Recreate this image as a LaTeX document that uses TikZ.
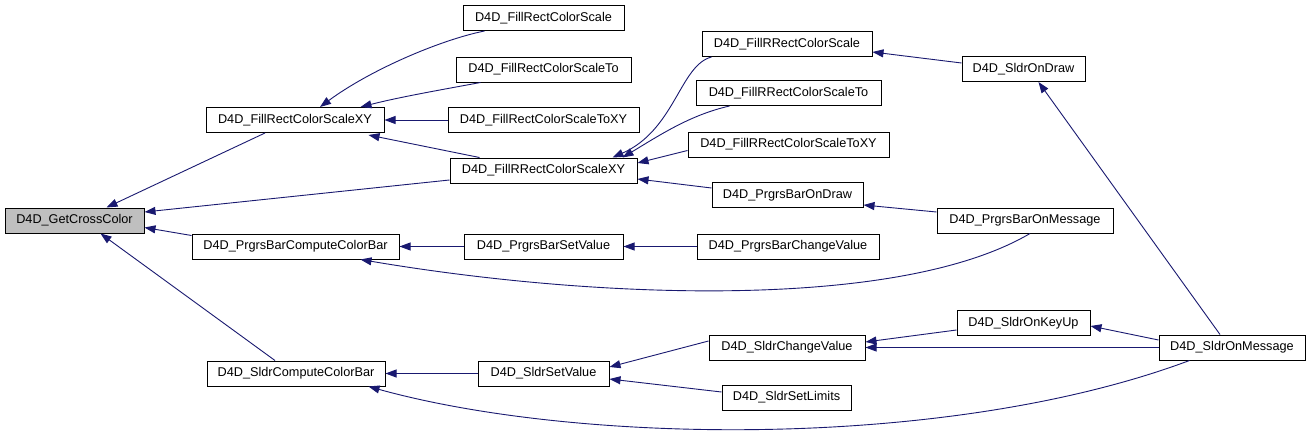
\documentclass[tikz,border=0pt]{standalone}
\usepackage{fontspec}
\setmainfont{Liberation Sans}
\usetikzlibrary{calc,arrows.meta}
\definecolor{edgec}{HTML}{191970}
\definecolor{focus}{HTML}{BFBFBF}
\begin{document}
\begin{tikzpicture}[x=1pt,y=-1pt,
  fn/.style={draw=black,line width=1pt,fill=white,minimum height=25pt,inner sep=0pt,
    font=\fontsize{12.7}{15}\selectfont},
  edge/.style={draw=edgec,line width=0.9pt,-{Triangle[length=11pt,width=8pt]}}]
\useasboundingbox[fill=white] (0,0) rectangle (1312,439);
% nodes
\node[fn,fill=focus,minimum width=139pt] (cross) at (74.5,220.5) {D4D\_GetCrossColor};
\node[fn,minimum width=178pt] (frxy) at (295,120) {D4D\_FillRectColorScaleXY};
\node[fn,minimum width=207pt] (prcc) at (295.5,246.5) {D4D\_PrgrsBarComputeColorBar};
\node[fn,minimum width=178pt] (sccb) at (296,373.5) {D4D\_SldrComputeColorBar};
\node[fn,minimum width=161pt] (frs) at (543.5,18) {D4D\_FillRectColorScale};
\node[fn,minimum width=175pt] (frst) at (543.5,69.5) {D4D\_FillRectColorScaleTo};
\node[fn,minimum width=191pt] (frstxy) at (543.5,120) {D4D\_FillRectColorScaleToXY};
\node[fn,minimum width=187pt] (frrxy) at (543.5,170.5) {D4D\_FillRRectColorScaleXY};
\node[fn,minimum width=159pt] (pbsv) at (543.5,246.5) {D4D\_PrgrsBarSetValue};
\node[fn,minimum width=131pt] (ssv) at (543.5,373.5) {D4D\_SldrSetValue};
\node[fn,minimum width=170pt] (frrs) at (787,44) {D4D\_FillRRectColorScale};
\node[fn,minimum width=185pt] (frrst) at (788.5,93) {D4D\_FillRRectColorScaleTo};
\node[fn,minimum width=201pt] (frrstxy) at (788.5,144.5) {D4D\_FillRRectColorScaleToXY};
\node[fn,minimum width=151pt] (pbod) at (787.5,195) {D4D\_PrgrsBarOnDraw};
\node[fn,minimum width=182pt] (pbcv) at (788,246.5) {D4D\_PrgrsBarChangeValue};
\node[fn,minimum width=156pt] (scv) at (787,347.5) {D4D\_SldrChangeValue};
\node[fn,minimum width=129pt] (ssl) at (786.5,397.5) {D4D\_SldrSetLimits};
\node[fn,minimum width=123pt] (sod) at (1023.5,69) {D4D\_SldrOnDraw};
\node[fn,minimum width=176pt] (pbom) at (1025,220.5) {D4D\_PrgrsBarOnMessage};
\node[fn,minimum width=133pt] (sku) at (1023.5,323) {D4D\_SldrOnKeyUp};
\node[fn,minimum width=146pt] (som) at (1232,347.5) {D4D\_SldrOnMessage};
% edges
\draw[edge] ($(frxy.south)+(-30,0)$) -- ($(cross.north)+(32,0)$);
\draw[edge] ($(frrxy.west)+(0,9.5)$) -- ($(cross.east)+(0,-8.5)$);
\draw[edge] ($(prcc.north west)+(0,2)$) -- ($(cross.east)+(0,7)$);
\draw[edge] ($(sccb.north)+(-21,0)$) -- ($(cross.south)+(26,0)$);
\draw[edge] ($(frs.south west)+(22,0)$) .. controls (440,40) and (370,70) .. ($(frxy.north)+(25,0)$);
\draw[edge] ($(frst.south west)+(25,0)$) .. controls (440,90) and (400,97) .. ($(frxy.north east)+(-24,0)$);
\draw[edge] (frstxy.west) -- (frxy.east);
\draw[edge] ($(frrxy.north west)+(30,0)$) -- ($(frxy.south east)+(-16,2)$);
\draw[edge] ($(frrs.south west)+(10,0)$) .. controls (680,65) and (675,130) .. ($(frrxy.north east)+(-25,0)$);
\draw[edge] ($(frrst.south west)+(34,0)$) .. controls (690,115) and (660,135) .. ($(frrxy.north east)+(-15,0)$);
\draw[edge] ($(frrstxy.west)+(0,6)$) -- ($(frrxy.east)+(0,-7.5)$);
\draw[edge] ($(pbod.west)+(0,-7)$) -- ($(frrxy.east)+(0,8.5)$);
\draw[edge] ($(sod.west)+(0,-6)$) -- ($(frrs.east)+(0,8)$);
\draw[edge] ($(pbom.west)+(0,-8.5)$) -- ($(pbod.east)+(0,10)$);
\draw[edge] ($(pbom.south)+(5,0)$) .. controls (900,310) and (600,300) .. ($(prcc.south east)+(-39,0)$);
\draw[edge] (pbsv.west) -- (prcc.east);
\draw[edge] (pbcv.west) -- (pbsv.east);
\draw[edge] ($(som.north)+(-12,0)$) -- ($(sod.south)+(15,0)$);
\draw[edge] (ssv.west) -- (sccb.east);
\draw[edge] ($(som.south west)+(31,0)$) .. controls (950,450) and (580,445) .. ($(sccb.south east)+(-17,0)$);
\draw[edge] ($(scv.west)+(0,-6.5)$) -- ($(ssv.east)+(0,-6.5)$);
\draw[edge] ($(ssl.west)+(0,-5.5)$) -- ($(ssv.east)+(0,5.5)$);
\draw[edge] ($(sku.west)+(0,7)$) -- ($(scv.east)+(0,-5.5)$);
\draw[edge] (som.west) -- (scv.east);
\draw[edge] ($(som.west)+(0,-7.5)$) -- ($(sku.east)+(0,3)$);
\end{tikzpicture}
\end{document}
